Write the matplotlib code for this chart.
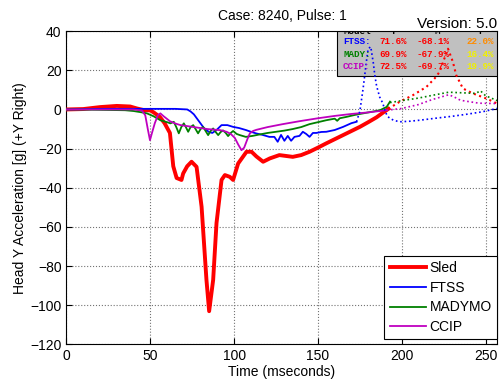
import matplotlib
matplotlib.use("Agg")
import matplotlib.pyplot as plt
from matplotlib.patches import Rectangle

plt.rcParams['font.family'] = ['Liberation Sans', 'DejaVu Sans']

# Sled (solid part, then dotted tail)
sled_t = [0, 10, 20, 30, 38, 42, 46, 50, 52, 55.7, 58.5, 61.7, 63.7, 65.7, 68.6, 69.6, 72,
          74.6, 77.6, 80.6, 83.5, 85.1, 87.5, 89.5, 92.5, 94.5, 97.4, 99.4, 102.4, 107.4, 110.4,
          113.3, 117.3, 121.3, 127, 135, 140, 145, 150, 155, 160, 165, 170, 175, 180, 185, 189, 192]
sled_y = [0, 0.2, 1.2, 1.8, 1.5, 0.5, -0.3, -0.5, -1.5, -3.8, -7, -12, -29, -35, -36, -32.7, -29,
          -26.7, -29.3, -49.7, -87, -103, -87, -58, -36, -33.5, -34.4, -36, -27.6, -21.6, -21.6,
          -24, -26.7, -25, -23.3, -24.2, -23.3, -21.6, -19.5, -17.3, -15.2, -13.1, -11, -8.9, -6.5, -4, -1.5, 0.3]
sled_dot_t = [192, 198.7, 206.7, 214.7, 219.6, 222.6, 225, 227.6, 230.5, 232.5, 236.5, 242.4, 250.4, 257]
sled_dot_y = [0.3, 3.9, 7.3, 11.5, 15.8, 19.2, 25, 31, 24.3, 17.5, 10.7, 8.2, 5.6, 3]

# FTSS
ftss_t = [0, 20, 40, 55, 65, 72, 74, 76, 79, 82, 85, 87, 89.5, 92.5, 96, 99.4, 103, 107, 110,
          113, 117, 121, 124, 126, 128, 130, 132, 134, 136, 139, 141, 143, 145, 147, 149, 152,
          155, 160, 165, 170, 173]
ftss_y = [0, 0.3, 0.3, 0.3, 0.3, 0, -1, -2.5, -6, -9.5, -11.5, -12, -10.5, -8, -8, -8.9, -9.5,
          -10.5, -11.4, -12.2, -13, -14, -14, -16.5, -13, -16, -13.5, -16, -14, -13.5, -11.4,
          -12.5, -14, -12, -12, -11.5, -11.4, -10.5, -8.9, -7, -6.3]
ftss_dot_t = [173, 175, 176, 177, 178, 179, 180, 181.5, 183, 184, 185, 186.8, 188.8, 190,
              191.8, 195, 198.7, 205, 210.7, 220, 230, 240, 248, 257]
ftss_dot_y = [-6.3, -1, 5, 11, 18, 25, 31, 32, 24, 17, 12, 6.4, 3, -1, -3.8, -5.5, -6.3, -6,
              -5.5, -4.5, -3.5, -2.3, -1.2, 0.5]

# MADYMO
mady_t = [0, 20, 35, 40, 45, 48, 52, 56, 60, 62, 64, 65.5, 67, 68.5, 70, 71.2, 72.6, 74, 75.6, 77,
          78.5, 80, 81.5, 83, 84.5, 86, 87.5, 89, 90.5, 92, 93.4, 95, 96.4, 98, 99.4, 101.5, 103.4,
          107, 111, 115, 120, 125, 130, 135, 140, 145, 150, 155, 160, 161.5, 163, 167, 172, 177,
          182, 187, 191, 193]
mady_y = [0, -0.2, -0.4, -0.8, -1.5, -2, -3.5, -5.5, -6.5, -7.1, -6.3, -9, -12.2, -9, -7.1, -9,
          -11.4, -9, -8, -10, -12.2, -10, -8.9, -11, -13.1, -11, -9.7, -11.5, -13.1, -11.5, -10.7,
          -12, -13.6, -12, -11, -12.5, -13.1, -14, -13.5, -12.8, -12, -11.4, -10.8, -10, -9,
          -7.5, -6.5, -5.5, -4.7, -5.8, -4.5, -3.8, -2.8, -2, -1.2, -0.4, 1.3, 4]
mady_dot_t = [193, 200, 210, 220, 228, 236, 244, 247, 250, 257]
mady_dot_y = [3.5, 4.5, 5.8, 7.5, 8.8, 8.5, 8.2, 9.5, 7, 4.5]

# CCIP
ccip_t = [0, 20, 40, 45, 47, 48.5, 49.8, 51, 52.7, 54.5, 56, 58, 61.7, 65, 68, 72, 76, 80, 84,
          88, 92, 95.5, 98, 100.4, 102.5, 104.4, 106, 108, 109.4, 111.3, 113.3, 120, 129, 139,
          150, 160, 170, 180, 191]
ccip_y = [0, 0, 0, -0.5, -3, -10, -15.7, -12, -7, -3, -2, -3.5, -6, -7.2, -8, -8.5, -9, -9.5,
          -10, -10.3, -10.6, -11.4, -12.5, -14.5, -18, -20.8, -19.5, -15, -12.2, -11, -10.4,
          -9, -7.5, -6, -4.5, -3.3, -2.3, -1.5, -0.4]
ccip_dot_t = [191, 200, 210, 218, 224, 228, 231, 235, 240, 246, 257]
ccip_dot_y = [-0.4, 0.5, 2.5, 5, 6.5, 7.5, 6.5, 4.7, 4, 3.2, 3]

names = ['Sled', 'FTSS', 'MADYMO', 'CCIP']
colors = ['#FF0000', '#0000FF', '#008000', '#BF00BF']

table_rows = ['FTSS:', 'MADY:', 'CCIP:']
table_t = ['71.6%', '69.9%', '72.5%']
table_m = ['-68.1%', '-67.9%', '-69.7%']
table_f = ['22.0%', '16.4%', '19.9%']
f_colors = ['#FF8C00', '#F0F000', '#F0F000']

fig = plt.figure(figsize=(5.01, 3.84), dpi=100)
ax = fig.add_axes([0.1327, 0.1029, 0.8599, 0.8161])

series = [(sled_t, sled_y, sled_dot_t, sled_dot_y, 2.8),
          (ftss_t, ftss_y, ftss_dot_t, ftss_dot_y, 1.3),
          (mady_t, mady_y, mady_dot_t, mady_dot_y, 1.3),
          (ccip_t, ccip_y, ccip_dot_t, ccip_dot_y, 1.3)]
for (t, y, td, yd, lw), name, c in zip(series, names, colors):
    ax.plot(t, y, color=c, lw=lw, label=name, zorder=3)
for (t, y, td, yd, lw), c in zip(series, colors):
    ax.plot(td, yd, color=c, lw=1.5 if lw > 2 else 1.2, ls=':', zorder=3)

ax.set_xlim(0, 257)
ax.set_ylim(-120, 40)
ax.set_xticks([0, 50, 100, 150, 200, 250])
ax.set_yticks(range(-120, 41, 20))
ax.tick_params(direction='in', top=True, right=True, labelsize=10, length=4)
ax.grid(True, ls=':', color='0.45', lw=0.8)
ax.set_axisbelow(True)
ax.set_xlabel('Time (mseconds)', fontsize=10, labelpad=1)
ax.set_ylabel('Head Y Acceleration [g] (+Y Right)', fontsize=10, labelpad=2)
ax.set_title('Case: 8240, Pulse: 1', fontsize=10, pad=8)
fig.text(0.993, 0.937, 'Version: 5.0', ha='right', va='center', fontsize=11)

# stats box
ax.add_patch(Rectangle((161.2, 17), 96, 28, facecolor='#C0C0C0', edgecolor='black',
                       lw=0.8, zorder=1.5))
mono = dict(family='Liberation Mono', fontsize=6.7, weight='bold', va='center', clip_on=True, zorder=4)
ax.text(165, 39.6, 'Model', color='black', **mono)
ax.text(193.4, 39.6, 'T', color='black', **mono)
ax.text(219.6, 39.6, 'M', color='black', **mono)
ax.text(245.8, 39.6, 'F', color='black', **mono)
row_y = [34.8, 28.1, 21.7]
for i in range(3):
    ax.text(165, row_y[i], table_rows[i], color=colors[i + 1], **mono)
    ax.text(186.8, row_y[i], table_t[i], color='#FF0000', **mono)
    ax.text(209, row_y[i], table_m[i], color='#FF0000', **mono)
    ax.text(238.5, row_y[i], table_f[i], color=f_colors[i], **mono)

leg = ax.legend(loc='lower right', bbox_to_anchor=(1.0, 0.016), fontsize=10, fancybox=False,
                edgecolor='black', framealpha=1, borderpad=0.4, labelspacing=0.4,
                handlelength=2.6, handletextpad=0.25, borderaxespad=0)
leg.get_frame().set_linewidth(0.8)
leg.set_zorder(5)

fig.savefig('out.png', dpi=100)
